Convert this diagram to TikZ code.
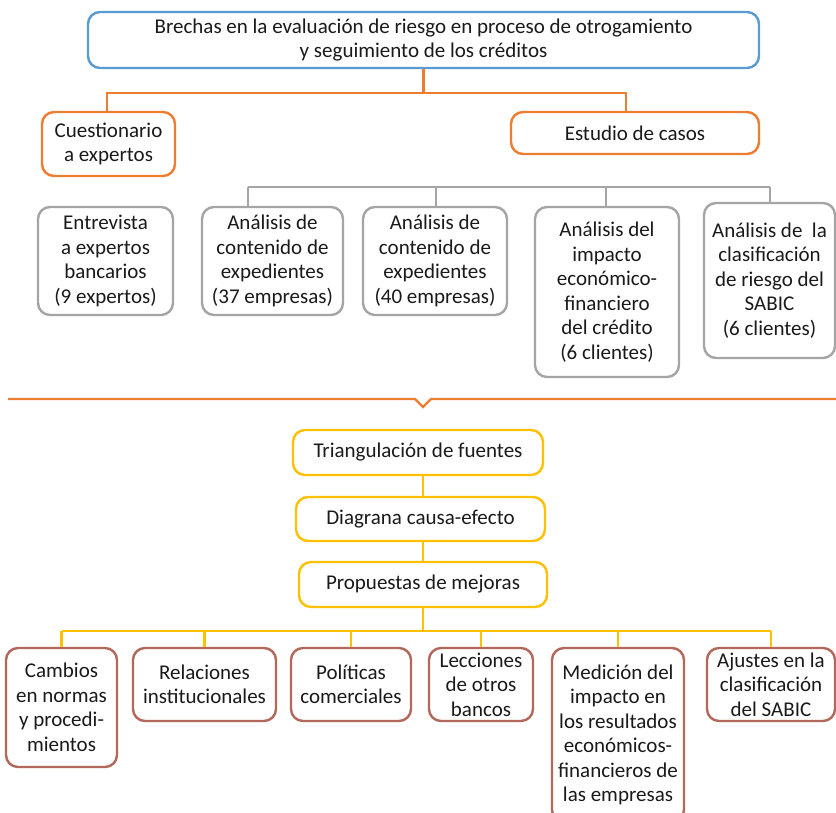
\documentclass[tikz,border=0pt]{standalone}
\usepackage{fontspec}
\setmainfont{Carlito}
\usetikzlibrary{calc}
\definecolor{cblue}{HTML}{5B9BD5}
\definecolor{corange}{HTML}{ED7D31}
\definecolor{cgray}{HTML}{A5A5A5}
\definecolor{cyellow}{HTML}{FFC000}
\definecolor{cbrown}{RGB}{178,104,90}
\definecolor{ctext}{HTML}{1A1A1A}
\begin{document}
\begin{tikzpicture}[x=1pt,y=-1pt,
  box/.style={draw, line width=2.4pt, rounded corners=12pt, fill=white, inner sep=0pt,
    align=center, text=ctext, font=\fontsize{21}{24.5}\selectfont},
  bluebox/.style={box, draw=cblue},
  orbox/.style={box, draw=corange},
  graybox/.style={box, draw=cgray},
  yelbox/.style={box, draw=cyellow},
  brbox/.style={box, draw=cbrown},
  oline/.style={draw=corange, line width=2.2pt},
  gline/.style={draw=cgray, line width=2.2pt},
  yline/.style={draw=cyellow, line width=2.2pt},
]
\useasboundingbox (0,0) rectangle (836,813);
\clip (0,0) rectangle (836,813);
\fill[white] (0,0) rectangle (836,813);
% helper: box from corners
\newcommand{\bx}[7]{% style, name, x1, y1, x2, y2, text
  \node[#1, minimum width={#5-#3}, minimum height={#6-#4}] (#2) at ({(#3+#5)/2},{(#4+#6)/2}) {#7};}

\bx{bluebox}{top}{88}{12}{759}{68}{Brechas en la evaluación de riesgo en proceso de otrogamiento\\ y seguimiento de los créditos}
\bx{orbox}{cues}{42}{112}{175}{176}{Cuestionario\\a expertos}
\bx{orbox}{est}{511}{112}{759}{154}{Estudio de casos}

\bx{graybox}{ent}{38}{207}{173}{315}{Entrevista\\a expertos\\bancarios\\(9 expertos)}
\bx{graybox}{a37}{202}{207}{343}{315}{Análisis de\\contenido de\\expedientes\\(37 empresas)}
\bx{graybox}{a40}{363}{207}{507}{315}{Análisis de\\contenido de\\expedientes\\(40 empresas)}
\bx{graybox}{imp}{535}{207}{679}{377}{Análisis del\\impacto\\económico-\\financiero\\del crédito\\(6 clientes)}
\bx{graybox}{sab}{704}{203}{835}{358}{Análisis de\ \ la\\clasificación\\de riesgo del\\SABIC\\(6 clientes)}

\bx{yelbox}{tri}{293}{430}{543}{475}{Triangulación de fuentes}
\bx{yelbox}{dia}{296}{497}{545}{541}{Diagrana causa-efecto}
\bx{yelbox}{pro}{299}{562}{547}{607}{Propuestas de mejoras}

\bx{brbox}{cam}{6}{648}{117}{767}{Cambios\\en normas\\y procedi-\\mientos}
\bx{brbox}{rel}{133}{648}{276}{721}{Relaciones\\institucionales}
\bx{brbox}{pol}{291}{648}{411}{721}{Políticas\\comerciales}
\bx{brbox}{lec}{429}{648}{533}{721}{Lecciones\\de otros\\bancos}
\bx{brbox}{med}{552}{648}{684}{822}{Medición del\\impacto en\\los resultados\\económicos-\\financieros de\\las empresas}
\bx{brbox}{aju}{707}{648}{835}{721}{Ajustes en la\\clasificación\\del SABIC}

% orange connectors
\draw[oline] (top.south) -- ++(0,24) coordinate (ob);
\draw[oline] ($(cues.north)+(-1.5,0)$) |- (ob) -| ($(est.north)+(-9,0)$);

% gray bar
\coordinate (gl) at (248,187);
\coordinate (gr) at (770,187);
\draw[gline] (gl) -- (gr);
\draw[gline] (gl) -- (gl |- a37.north);
\draw[gline] (436,187) -- (436,207);
\draw[gline] (606,187) -- (606,207);
\draw[gline] (gr) -- (gr |- sab.north);

% separator with notch
\draw[oline] (8,399) -- (415,399) -- (423,407) -- (431,399) -- (836,399);

% yellow connectors
\draw[yline] (pro.south) -- ++(0,23) coordinate (yb);
\draw[yline] (yb |- tri.south) -- (yb |- dia.north);
\draw[yline] (yb |- dia.south) -- (yb |- pro.north);
\draw[yline] (yb -| cam.north) -- (yb -| aju.north);
\foreach \n in {cam,rel,pol,lec,med,aju} \draw[yline] (yb -| \n.north) -- (\n.north);
\end{tikzpicture}
\end{document}
